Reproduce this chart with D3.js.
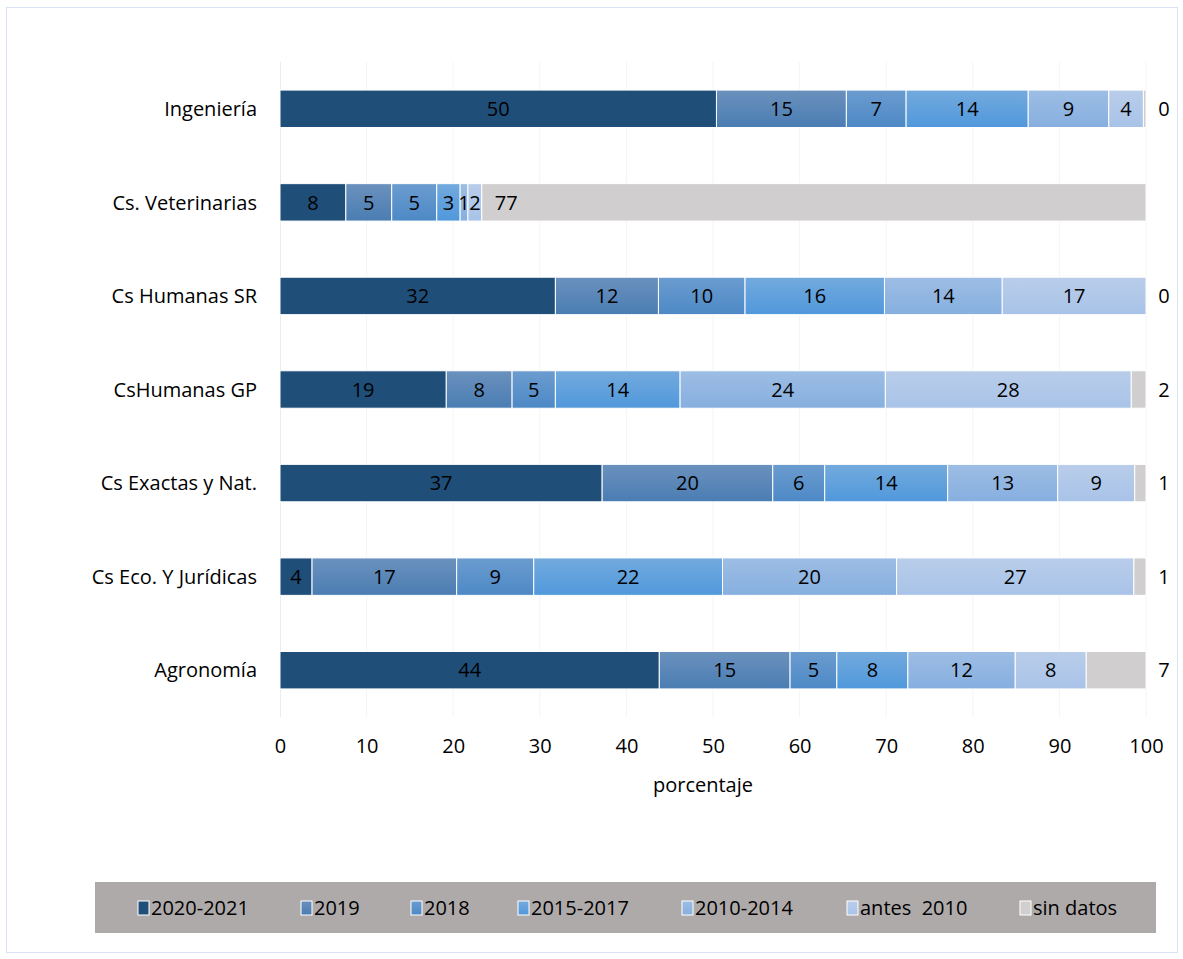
<!DOCTYPE html>
<html>
<head>
<meta charset="utf-8">
<script src="https://cdn.jsdelivr.net/npm/d3@7"></script>
<style>
  body { margin: 0; background: #fff; }
  text { font-family: "Open Sans", "Noto Sans", sans-serif; }
</style>
</head>
<body>
<div id="Vis"></div>
<script>
// categories, top to bottom
var categories = ["Ingeniería", "Cs. Veterinarias", "Cs Humanas SR", "CsHumanas GP",
                  "Cs Exactas y Nat.", "Cs Eco. Y Jurídicas", "Agronomía"];

var series = ["2020-2021", "2019", "2018", "2015-2017", "2010-2014", "antes  2010", "sin datos"];

// values per series (percent), same order as categories
var v2020 = [50.4, 7.6, 31.8, 19.2, 37.2, 3.7, 43.8];
var v2019 = [15.0, 5.3, 11.9, 7.6, 19.7, 16.7, 15.1];
var v2018 = [6.9, 5.2, 10.0, 5.0, 6.0, 8.9, 5.4];
var v2015 = [14.1, 2.7, 16.1, 14.4, 14.2, 21.8, 8.2];
var v2010 = [9.3, 0.9, 13.6, 23.7, 12.7, 20.1, 12.4];
var vAntes = [4.0, 1.6, 16.6, 28.4, 8.9, 27.4, 8.2];
var vSin = [0.3, 76.7, 0.0, 1.7, 1.3, 1.4, 6.9];

var xTicks = [0, 10, 20, 30, 40, 50, 60, 70, 80, 90, 100];

// colours: top / bottom of the gradient
var colors = [
  ["#1f4e79", "#1f4e79"],
  ["#6b91bd", "#4a7db3"],
  ["#6b9ccf", "#4d89c6"],
  ["#73aadd", "#5098dc"],
  ["#9dbde4", "#86afdf"],
  ["#b9cdea", "#a8c3e8"],
  ["#d0cece", "#d0cece"]
];

var allValues = [v2020, v2019, v2018, v2015, v2010, vAntes, vSin];
var data = categories.map(function(c, i) {
  var row = {cat: c};
  series.forEach(function(s, j) { row[s] = allValues[j][i]; });
  return row;
});

var W = 1183, H = 959;
var margin = {top: 62, left: 280, right: 37, bottom: 242};
var width = W - margin.left - margin.right,
    height = H - margin.top - margin.bottom;
var fs = "20px";

var root = d3.select("#Vis").append("svg")
  .attr("width", W).attr("height", H);

// outer chart border
root.append("rect")
  .attr("x", 6.5).attr("y", 7.5).attr("width", W - 12).attr("height", H - 14)
  .attr("fill", "#fff").attr("stroke", "#dae3f3").attr("stroke-width", 1);

var defs = root.append("defs");
colors.forEach(function(c, i) {
  var g = defs.append("linearGradient").attr("id", "grad" + i)
    .attr("x1", 0).attr("y1", 0).attr("x2", 0).attr("y2", 1);
  g.append("stop").attr("offset", "0%").attr("stop-color", c[0]);
  g.append("stop").attr("offset", "100%").attr("stop-color", c[1]);
});

var svg = root.append("g")
  .attr("transform", "translate(" + margin.left + "," + margin.top + ")");

var x = d3.scaleLinear().domain([0, 100]).range([0, width]);
var y = d3.scaleBand().domain(categories).range([0, height]).paddingInner(0.6).paddingOuter(0.3);

// faint gridlines
svg.append("g").selectAll("line")
  .data(xTicks.slice(1))
  .enter().append("line")
    .attr("x1", function(d) { return x(d); })
    .attr("x2", function(d) { return x(d); })
    .attr("y1", 0).attr("y2", height)
    .attr("stroke", "#f4f4f4");

// left axis line
svg.append("line")
  .attr("x1", 0.5).attr("x2", 0.5).attr("y1", 0).attr("y2", height)
  .attr("stroke", "#ececec");

// stacked bars
var stacked = d3.stack().keys(series)(data);

var layers = svg.append("g").selectAll("g")
  .data(stacked)
  .enter().append("g")
    .attr("fill", function(d, i) { return "url(#grad" + i + ")"; });

layers.selectAll("rect")
  .data(function(d) { return d; })
  .enter().append("rect")
    .attr("x", function(d) { return x(d[0]); })
    .attr("y", function(d) { return y(d.data.cat); })
    .attr("width", function(d) { return Math.max(0, x(d[1]) - x(d[0])); })
    .attr("height", y.bandwidth())
    .attr("stroke", "#fff")
    .attr("stroke-width", 1);

// value labels
stacked.forEach(function(layer, i) {
  var last = i === series.length - 1;
  svg.append("g").selectAll("text")
    .data(layer)
    .enter().append("text")
      .attr("x", function(d) {
        if (last) {
          if (d.data[series[i]] > 50) return x(d[0]) + 13;
          return x(100) + 18;
        }
        return (x(d[0]) + x(d[1])) / 2;
      })
      .attr("y", function(d) { return y(d.data.cat) + y.bandwidth() / 2; })
      .attr("dy", "0.36em")
      .attr("text-anchor", function(d) { return (last && d.data[series[i]] > 50) ? "start" : "middle"; })
      .attr("font-size", fs)
      .attr("fill", "#000")
      .text(function(d) { return Math.round(d.data[series[i]]); });
});

// category labels
svg.append("g").selectAll("text")
  .data(categories)
  .enter().append("text")
    .attr("x", -23)
    .attr("y", function(d) { return y(d) + y.bandwidth() / 2; })
    .attr("dy", "0.36em")
    .attr("text-anchor", "end")
    .attr("font-size", fs)
    .attr("fill", "#000")
    .text(function(d) { return d; });

// x axis
var xAxis = svg.append("g")
  .attr("transform", "translate(0," + height + ")")
  .call(d3.axisBottom(x).tickValues(xTicks).tickSize(0).tickPadding(22));
xAxis.select(".domain").remove();
xAxis.selectAll("text")
  .attr("font-size", fs)
  .attr("fill", "#000")
  .style("font-family", "'Open Sans', sans-serif");

// axis title
svg.append("text")
  .attr("x", width / 2 - 10)
  .attr("y", height + 75)
  .attr("text-anchor", "middle")
  .attr("font-size", fs)
  .text("porcentaje");

// legend
var legend = root.append("g");
legend.append("rect")
  .attr("x", 95).attr("y", 882).attr("width", 1061).attr("height", 51)
  .attr("fill", "#aeaaaa");

var legendX = [138, 301, 411, 518, 682, 847, 1020];
var items = legend.selectAll("g.item")
  .data(series)
  .enter().append("g")
    .attr("class", "item")
    .attr("transform", function(d, i) { return "translate(" + legendX[i] + ",908)"; });
items.append("rect")
  .attr("x", 0).attr("y", -7).attr("width", 11).attr("height", 14)
  .attr("fill", function(d, i) { return "url(#grad" + i + ")"; })
  .attr("stroke", "#fff").attr("stroke-width", 1);
items.append("text")
  .attr("x", 13)
  .attr("dy", "0.36em")
  .attr("font-size", fs)
  .attr("fill", "#000")
  .style("white-space", "pre")
  .text(function(d) { return d; });
</script>
</body>
</html>
